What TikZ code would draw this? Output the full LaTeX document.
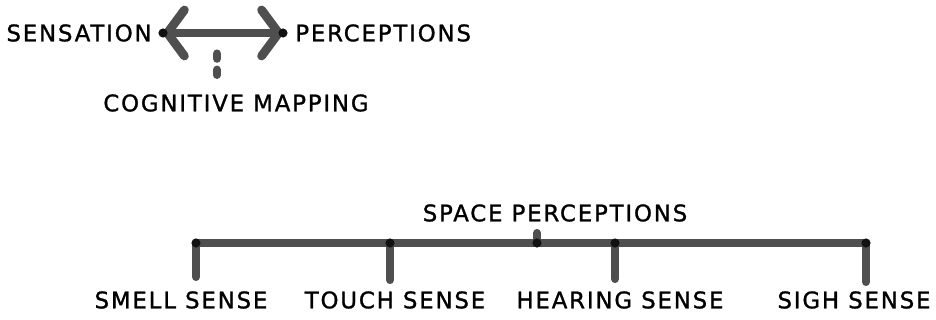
\documentclass[tikz,border=0pt]{standalone}
\usepackage{fontspec}
\newfontfamily\sketchfont[LetterSpace=8,FakeBold=1.2]{DejaVu Sans}
\usetikzlibrary{arrows.meta}
\definecolor{ink}{HTML}{4F4F4F}
\definecolor{dotc}{HTML}{111111}

\begin{document}
\begin{tikzpicture}[x=0.02cm, y=-0.02cm,
          lbl/.style={inner sep=0pt, font=\sketchfont\fontsize{13}{15}\selectfont, text=black},
          bar/.style={draw=ink, line width=4.6pt, line cap=round},
          twoway/.style={draw=ink, line width=4pt, {Straight Barb[length=0.34cm, width=0.92cm, round, line width=5pt]}-{Straight Barb[length=0.34cm, width=0.92cm, round, line width=5pt]}},
          jdot/.style={fill=dotc}]
        \useasboundingbox (0,0) rectangle (936,320);
        % top: sensation <-> perceptions
        \node[lbl, anchor=east] (sensation) at (152,33) {SENSATION};
        \node[lbl, anchor=west] (percep) at (295,33) {PERCEPTIONS};
        \node[lbl] (cogmap) at (236,103) {COGNITIVE MAPPING};
        \draw[twoway, shorten <=0.22cm, shorten >=0.24cm] (sensation.east) -- (percep.west);
        \fill[jdot] ([xshift=0.22cm]sensation.east) circle (2.6pt);
        \fill[jdot] ([xshift=-0.24cm]percep.west) circle (2.6pt);
        \coordinate (mapA) at (217,53.5);
        \coordinate (mapB) at (217,75);
        \draw[bar, dash pattern=on 3pt off 6.2pt] (mapA) -- (mapB);
        % bottom: space perceptions tree
        \node[lbl] (space) at (555,213) {SPACE PERCEPTIONS};
        \node[lbl] (smell) at (181,300) {SMELL SENSE};
        \node[lbl] (touch) at (395,300) {TOUCH SENSE};
        \node[lbl] (hearing) at (620,300) {HEARING SENSE};
        \node[lbl] (sigh) at (854,300) {SIGH SENSE};
        \coordinate (jSmell) at (196,243);
        \coordinate (jTouch) at (390,243);
        \coordinate (jSpace) at (537,243);
        \coordinate (jHear) at (615,243);
        \coordinate (jSigh) at (866,243);
        \draw[bar] (jSmell) -- (jSigh);
        \draw[bar, shorten >=0.22cm] (jSpace) -- (jSpace |- space.south);
        \draw[bar, shorten >=0.28cm] (jSmell) -- (jSmell |- smell.north);
        \draw[bar, shorten >=0.22cm] (jTouch) -- (jTouch |- touch.north);
        \draw[bar, shorten >=0.24cm] (jHear) -- (jHear |- hearing.north);
        \draw[bar, shorten >=0.18cm] (jSigh) -- (jSigh |- sigh.north);
        \foreach \j in {jSmell,jTouch,jSpace,jHear,jSigh}
          \fill[jdot] (\j) circle (2.6pt);
      \end{tikzpicture}
\end{document}
